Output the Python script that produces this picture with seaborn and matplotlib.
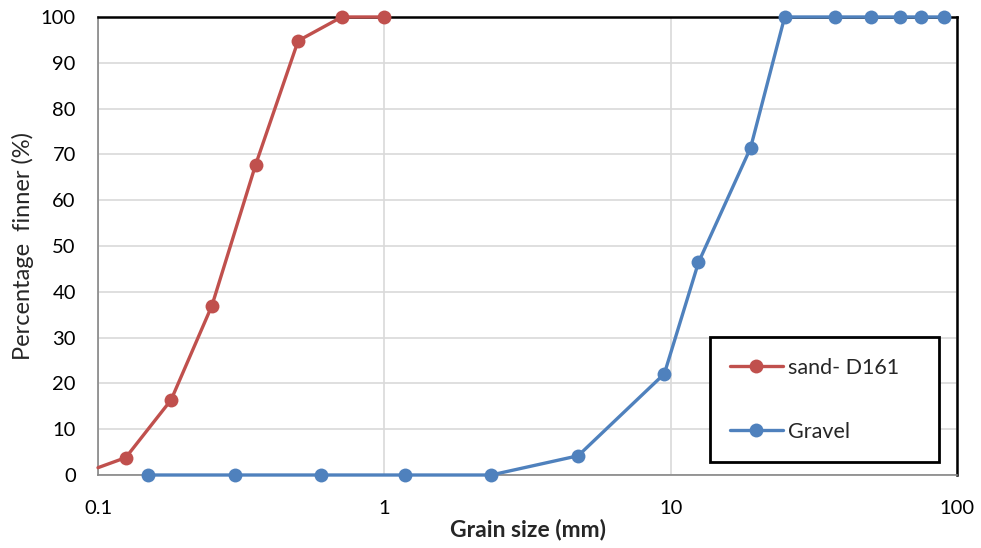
import matplotlib
matplotlib.use("Agg")
import matplotlib.pyplot as plt
import seaborn as sns
import pandas as pd
from matplotlib.ticker import FixedLocator, NullLocator, FuncFormatter
from matplotlib.colors import to_hex

# Data
sand_size = [0.1, 0.125, 0.18, 0.25, 0.355, 0.5, 0.71, 1.0]
sand_pass = [1.6, 3.8, 16.4, 37.0, 67.7, 94.8, 100.0, 100.0]
gravel_size = [0.15, 0.3, 0.6, 1.18, 2.36, 4.75, 9.5, 12.5, 19.0, 25.0, 37.5, 50.0, 63.0, 75.0, 90.0]
gravel_pass = [0.0, 0.0, 0.0, 0.0, 0.0, 4.2, 22.1, 46.4, 71.4, 100.0, 100.0, 100.0, 100.0, 100.0, 100.0]
series_names = ["sand- D161", "Gravel"]
x_ticks = [0.1, 1, 10, 100]
x_tick_labels = ["0.1", "1", "10", "100"]
y_ticks = list(range(0, 101, 10))

df = pd.concat([
    pd.DataFrame({"size": sand_size, "pass": sand_pass, "series": series_names[0]}),
    pd.DataFrame({"size": gravel_size, "pass": gravel_pass, "series": series_names[1]}),
])

sns.set_style("white")
plt.rcParams["font.family"] = ["Lato", "DejaVu Sans"]

fig = plt.figure(figsize=(9.81, 5.48), dpi=100)
ax = fig.add_axes([0.0999, 0.1332, 0.8757, 0.8358])

red, blue = "#C0504D", "#4F81BD"
palette = {series_names[0]: red, series_names[1]: blue}
sns.lineplot(data=df, x="size", y="pass", hue="series", palette=palette,
             marker="o", markersize=10, markeredgewidth=0, linewidth=2.4,
             sort=False, estimator=None, ax=ax, zorder=3)

for ln in ax.lines:
    ln.set_clip_on(False)
    if to_hex(ln.get_color()).lower() == red.lower():
        # first point sits on the axis edge without a visible marker
        ln.set_markevery(list(range(1, len(sand_size))))

ax.set_xscale("log")
ax.set_xlim(0.1, 100)
ax.set_ylim(0, 100)
ax.xaxis.set_major_locator(FixedLocator(x_ticks))
ax.xaxis.set_minor_locator(NullLocator())
ax.xaxis.set_major_formatter(FuncFormatter(lambda v, p: x_tick_labels[x_ticks.index(v)] if v in x_ticks else ""))
ax.set_yticks(y_ticks)

ax.grid(True, which="major", color="#D9D9D9", linewidth=1.2, zorder=0)
ax.set_axisbelow(True)

for side in ["top", "right"]:
    ax.spines[side].set_color("black")
    ax.spines[side].set_linewidth(1.8)
for side in ["left", "bottom"]:
    ax.spines[side].set_color("#868686")
    ax.spines[side].set_linewidth(1.2)

ax.tick_params(axis="both", labelsize=14.5, length=0, colors="black")
ax.tick_params(axis="x", pad=18)
ax.tick_params(axis="y", pad=16)
ax.set_xlabel("Grain size (mm)", fontsize=16.5, fontweight="bold", labelpad=1)
ax.set_ylabel("Percentage  finner (%)", fontsize=17, labelpad=5)

leg = ax.legend(loc="lower left", bbox_to_anchor=(0.712, 0.028, 0.267, 0.285),
                mode="expand", fontsize=15.5, frameon=True, fancybox=False,
                handlelength=2.45, handletextpad=0.25, labelspacing=2.05,
                borderpad=0.95, borderaxespad=0)
leg.get_frame().set_edgecolor("black")
leg.get_frame().set_linewidth(2.0)
leg.get_frame().set_alpha(1)

fig.savefig("out.png", dpi=100)
